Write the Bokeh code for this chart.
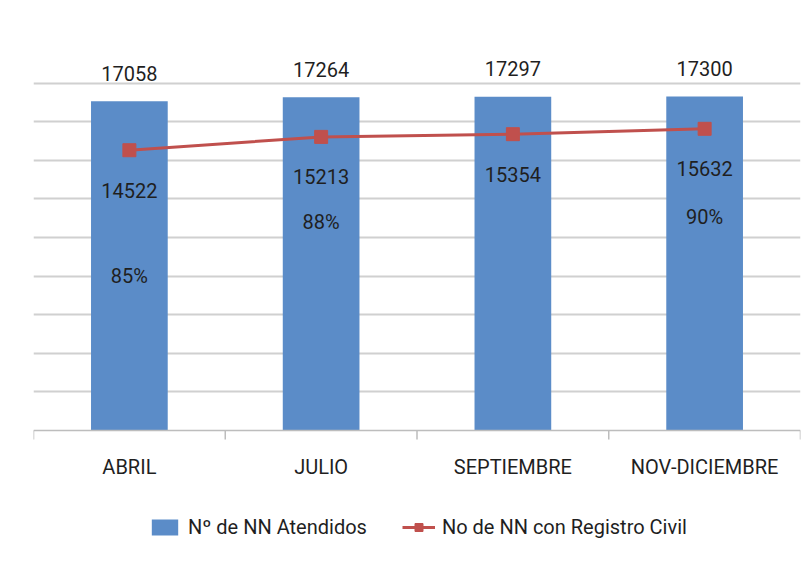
from bokeh.plotting import figure
from bokeh.models import (Range1d, FixedTicker, Legend, LegendItem, Grid, Span,
                          ColumnDataSource)
from bokeh.core.properties import value
from bokeh.embed import file_html
from bokeh.resources import INLINE

# ---- data ----
categories = ["ABRIL", "JULIO", "SEPTIEMBRE", "NOV-DICIEMBRE"]
atendidos = [17058, 17264, 17297, 17300]
registro = [14522, 15213, 15354, 15632]
porcentajes = ["85%", "88%", "", "90%"]
grid_ticks = [2000, 4000, 6000, 8000, 10000, 12000, 14000, 16000, 18000, 20000]
y_max = 20000

# ---- style / layout ----
FONT = "Roboto"
FS = "20px"
TXT = "#1f1f1f"
BLUE = "#5B8CC8"
RED = "#C0504D"
AXIS_GREY = "#bdbdbd"
pct_offsets = [126, 85, 0, 88]
W, H = 802, 557
TOP, LEFT, RIGHT = 44, 33, 2
PLOT_PX = 386          # pixels from y=0 to y=y_max
BELOW_PX = H - TOP - PLOT_PX  # pixels of frame below y=0 (axis labels + legend)
units_per_px = y_max / PLOT_PX
y_start = -BELOW_PX * units_per_px
tick_len = 9 * units_per_px

n = len(categories)
centers = [i + 0.5 for i in range(n)]
bounds = list(range(n + 1))
src = ColumnDataSource(dict(x=centers, cat=categories, at=atendidos, rc=registro,
                            at_txt=[str(v) for v in atendidos],
                            rc_txt=[str(v) for v in registro],
                            pct=porcentajes, pct_off=pct_offsets,
                            zero=[0] * n))

p = figure(width=W, height=H,
           x_range=Range1d(0, n), y_range=Range1d(y_start, y_max),
           output_backend="svg", toolbar_location=None,
           x_axis_location=None, y_axis_location=None,
           min_border_left=LEFT, min_border_right=RIGHT, min_border_top=TOP,
           min_border_bottom=0)
p.outline_line_color = None
p.background_fill_color = "white"
p.border_fill_color = "white"

for r in list(p.center):
    if isinstance(r, Grid):
        r.visible = False

grid = Grid(dimension=1, ticker=FixedTicker(ticks=grid_ticks),
            grid_line_color="#d0d0d0", grid_line_width=2)
p.add_layout(grid)

# x axis line and boundary ticks
p.add_layout(Span(location=0, dimension="width", line_color=AXIS_GREY, line_width=1.5))
p.segment(x0=bounds, y0=[0] * len(bounds), x1=bounds, y1=[-tick_len] * len(bounds),
          line_color=AXIS_GREY, line_width=1.5)

bars = p.vbar(x="x", top="at", width=0.4, color=BLUE, line_color=None, source=src)
line = p.line(x="x", y="rc", color=RED, line_width=3, source=src)
marks = p.scatter(x="x", y="rc", marker="square", size=13, color=RED, source=src)

p.text(x="x", y="at", text="at_txt", source=src,
       text_font=value(FONT), text_font_size=FS, text_color=TXT,
       text_align="center", text_baseline="middle", y_offset=-28)
p.text(x="x", y="rc", text="rc_txt", source=src,
       text_font=value(FONT), text_font_size=FS, text_color=TXT,
       text_align="center", text_baseline="middle", y_offset=40)
p.text(x="x", y="rc", text="pct", source=src,
       text_font=value(FONT), text_font_size=FS, text_color=TXT,
       text_align="center", text_baseline="middle", y_offset="pct_off")

# category labels under the axis
p.text(x="x", y="zero", text="cat", source=src,
       text_font=value(FONT), text_font_size=FS, text_color=TXT,
       text_align="center", text_baseline="middle", y_offset=36)

legend = Legend(items=[LegendItem(label="Nº de NN Atendidos", renderers=[bars]),
                       LegendItem(label="No de NN con Registro Civil", renderers=[line, marks])],
                orientation="horizontal", location=(115, 18),
                glyph_width=33, glyph_height=20, label_standoff=7, spacing=35,
                padding=0, margin=0, border_line_color=None, background_fill_alpha=0,
                label_text_font=FONT, label_text_font_size=FS, label_text_color=TXT)
p.add_layout(legend, "center")

open("out.html", "w").write(file_html(p, INLINE))
